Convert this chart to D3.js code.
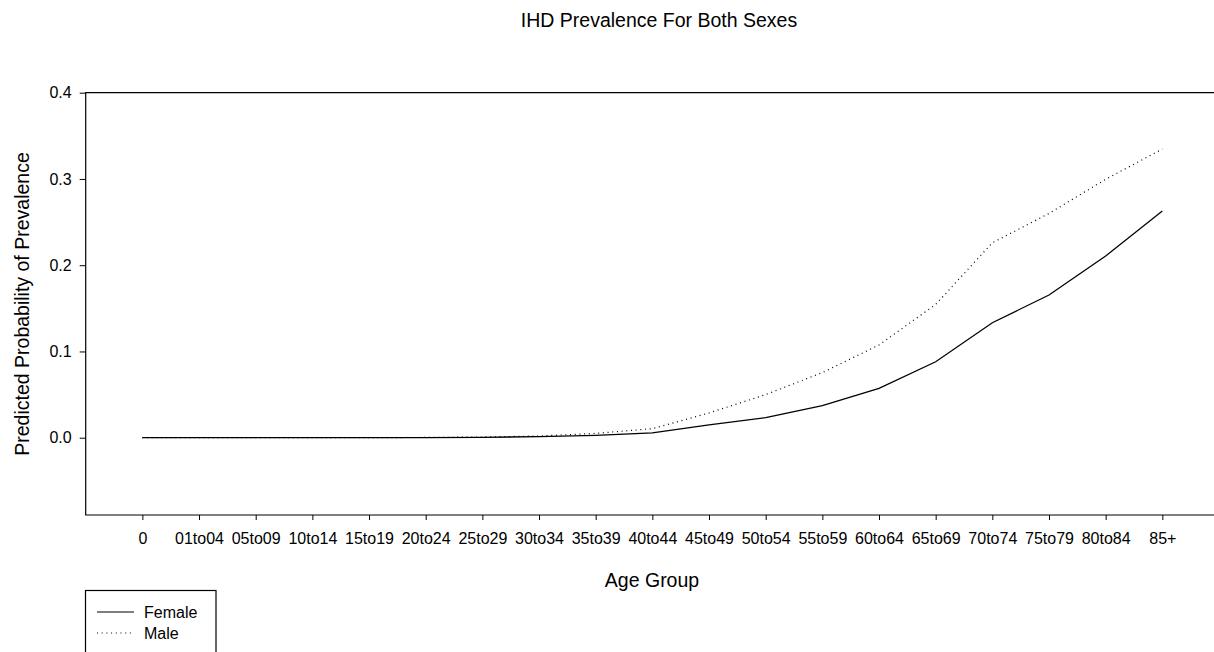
<!DOCTYPE html>
<html>
<head>
<meta charset="utf-8">
<script src="https://cdn.jsdelivr.net/npm/d3@7"></script>
<style>
  html, body { margin: 0; padding: 0; background: #fff; }
  svg { display: block; font-family: "Liberation Sans", Arial, sans-serif; }
</style>
</head>
<body>
<svg id="chart" width="1214" height="652"></svg>
<script>
// Age groups on the x axis
const ageGroups = ["0", "01to04", "05to09", "10to14", "15to19", "20to24", "25to29",
  "30to34", "35to39", "40to44", "45to49", "50to54", "55to59", "60to64",
  "65to69", "70to74", "75to79", "80to84", "85+"];

// Predicted probability of IHD prevalence per age group
const female = [0.0000, 0.0000, 0.0000, 0.0000, 0.0001, 0.0002, 0.0005,
  0.0012, 0.0028, 0.0055, 0.0150, 0.0232, 0.0371, 0.0573,
  0.0881, 0.1333, 0.1655, 0.2107, 0.2628];
const male = [0.0000, 0.0000, 0.0000, 0.0000, 0.0001, 0.0003, 0.0008,
  0.0020, 0.0050, 0.0105, 0.0287, 0.0500, 0.0755, 0.1075,
  0.1545, 0.2260, 0.2600, 0.2996, 0.3347];

const yTicks = [0.0, 0.1, 0.2, 0.3, 0.4];

const svg = d3.select("#chart");
const plotLeft = 85.7, plotRight = 1219, plotTop = 92.7, plotBottom = 515;
const font = "Liberation Sans, Arial, sans-serif";

const x = d3.scalePoint().domain(ageGroups).range([plotLeft, plotRight]).padding(1);
const y = d3.scaleLinear().domain([-0.0896, 0.4]).range([plotBottom, plotTop]);

// Plot frame (open on the right, runs past the window edge)
svg.append("path")
  .attr("d", `M${plotRight},${plotTop}H${plotLeft}V${plotBottom}H${plotRight}`)
  .attr("fill", "none").attr("stroke", "#000").attr("stroke-width", 1.2);

// Y axis
const yAxis = svg.append("g")
  .attr("transform", `translate(${plotLeft},0)`)
  .call(d3.axisLeft(y).tickValues(yTicks).tickFormat(d3.format(".1f")).tickSize(6).tickPadding(8));
yAxis.select(".domain").remove();
yAxis.selectAll("text").attr("font-size", 16).attr("fill", "#000").attr("font-family", font);
yAxis.selectAll("line").attr("stroke", "#000");

// X axis
const xAxis = svg.append("g")
  .attr("transform", `translate(0,${plotBottom})`)
  .call(d3.axisBottom(x).tickSize(5).tickPadding(13));
xAxis.select(".domain").remove();
xAxis.selectAll("text").attr("font-size", 16).attr("fill", "#000").attr("font-family", font);
xAxis.selectAll("line").attr("stroke", "#000");

// Series lines
const line = d3.line().x((d, i) => x(ageGroups[i])).y(d => y(d));

svg.append("path").datum(female)
  .attr("d", line).attr("fill", "none")
  .attr("stroke", "#000").attr("stroke-width", 1.3);

svg.append("path").datum(male)
  .attr("d", line).attr("fill", "none")
  .attr("stroke", "#000").attr("stroke-width", 1.2)
  .attr("stroke-dasharray", "1,3.7");

// Titles
svg.append("text")
  .attr("x", 659).attr("y", 27)
  .attr("text-anchor", "middle").attr("font-size", 19.5)
  .text("IHD Prevalence For Both Sexes");

svg.append("text")
  .attr("x", 652).attr("y", 587)
  .attr("text-anchor", "middle").attr("font-size", 19.5)
  .text("Age Group");

svg.append("text")
  .attr("transform", `translate(29,304) rotate(-90)`)
  .attr("text-anchor", "middle").attr("font-size", 19.5)
  .text("Predicted Probability of Prevalence");

// Legend
const legend = svg.append("g");
legend.append("rect")
  .attr("x", 85.5).attr("y", 590.5).attr("width", 130.5).attr("height", 70)
  .attr("fill", "none").attr("stroke", "#000").attr("stroke-width", 1.2);

const legendItems = [
  { label: "Female", dash: null, y: 612 },
  { label: "Male", dash: "1,3.7", y: 633 }
];
legendItems.forEach(item => {
  legend.append("line")
    .attr("x1", 97).attr("x2", 134).attr("y1", item.y).attr("y2", item.y)
    .attr("stroke", "#000").attr("stroke-width", 1.2)
    .attr("stroke-dasharray", item.dash);
  legend.append("text")
    .attr("x", 144).attr("y", item.y).attr("dy", "0.35em")
    .attr("font-size", 16)
    .text(item.label);
});
</script>
</body>
</html>
